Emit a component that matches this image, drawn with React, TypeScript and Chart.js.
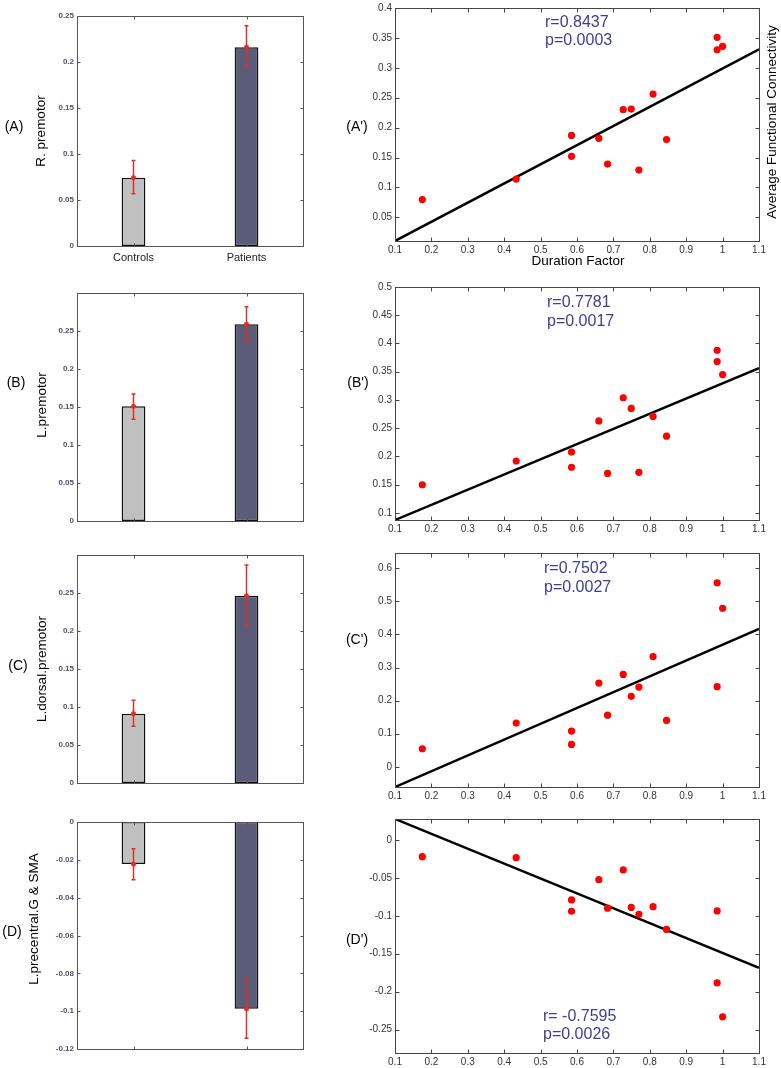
import React, { useEffect, useRef } from 'react';
import { Chart, registerables } from 'chart.js';

Chart.register(...registerables);

const FONT = "'Liberation Sans', Arial, sans-serif";
Chart.defaults.font.family = FONT;

// ---------- Bar panels (group means with error bars) ----------
const groups = ['Controls', 'Patients'];
const meanA = [0.0742, 0.216];
const loA = [0.0568, 0.194];
const hiA = [0.093, 0.2395];
const meanB = [0.151, 0.259];
const loB = [0.134, 0.2355];
const hiB = [0.167, 0.282];
const meanC = [0.0912, 0.2465];
const loC = [0.0746, 0.207];
const hiC = [0.109, 0.287];
const meanD = [-0.0222, -0.0987];
const loD = [-0.0305, -0.1143];
const hiD = [-0.0141, -0.0828];

const barTicksPos = [0, 0.05, 0.1, 0.15, 0.2, 0.25];
const barTicksNeg = [-0.12, -0.1, -0.08, -0.06, -0.04, -0.02, 0];

// ---------- Scatter panels (connectivity vs duration factor) ----------
const duration = [0.175, 0.433, 0.585, 0.585, 0.66, 0.684, 0.727, 0.749, 0.77, 0.809, 0.846, 0.985, 0.985, 1.0];
const connA = [0.0796, 0.114, 0.187, 0.152, 0.182, 0.139, 0.23, 0.231, 0.129, 0.256, 0.18, 0.351, 0.33, 0.336];
const connB = [0.15, 0.192, 0.208, 0.181, 0.263, 0.17, 0.304, 0.285, 0.172, 0.271, 0.236, 0.388, 0.368, 0.345];
const connC = [0.0545, 0.132, 0.108, 0.0676, 0.253, 0.156, 0.279, 0.213, 0.241, 0.333, 0.14, 0.556, 0.242, 0.479];
const connD = [-0.022, -0.0233, -0.079, -0.094, -0.0523, -0.09, -0.0395, -0.089, -0.098, -0.088, -0.118, -0.0936, -0.1885, -0.2333];

const fitX = [0.1, 1.1];
const fitA = [0.0104, 0.331];
const fitB = [0.0876, 0.3565];
const fitC = [-0.061, 0.417];
const fitD = [0.0277, -0.1687];

const xTicks = [0.1, 0.2, 0.3, 0.4, 0.5, 0.6, 0.7, 0.8, 0.9, 1, 1.1];
const yTicksA = [0.05, 0.1, 0.15, 0.2, 0.25, 0.3, 0.35, 0.4];
const yTicksB = [0.1, 0.15, 0.2, 0.25, 0.3, 0.35, 0.4, 0.45, 0.5];
const yTicksC = [0, 0.1, 0.2, 0.3, 0.4, 0.5, 0.6];
const yTicksD = [-0.25, -0.2, -0.15, -0.1, -0.05, 0];

const statsA = ['r=0.8437', 'p=0.0003'];
const statsB = ['r=0.7781', 'p=0.0017'];
const statsC = ['r=0.7502', 'p=0.0027'];
const statsD = ['r= -0.7595', 'p=0.0026'];

const fmt = (v: number) => String(Math.round(v * 10000) / 10000);

type Txt = { text: string; x: number; y: number; font: string; color?: string; align?: CanvasTextAlign; rot?: number };

function framePlugin(color: string, tickLen: number) {
  return {
    id: 'frame',
    afterDatasetsDraw(chart: any) {
      const { ctx, chartArea: a, scales } = chart;
      const xs = scales.x;
      const ys = scales.y;
      ctx.save();
      ctx.strokeStyle = color;
      ctx.lineWidth = 1;
      const l = Math.round(a.left) + 0.5;
      const r = Math.round(a.right) + 0.5;
      const t = Math.round(a.top) + 0.5;
      const b = Math.round(a.bottom) + 0.5;
      ctx.strokeRect(l, t, r - l, b - t);
      ctx.beginPath();
      xs.ticks.forEach((_: any, i: number) => {
        const px = Math.round(xs.getPixelForTick(i)) + 0.5;
        ctx.moveTo(px, b);
        ctx.lineTo(px, b - tickLen);
        ctx.moveTo(px, t);
        ctx.lineTo(px, t + tickLen);
      });
      ys.ticks.forEach((_: any, i: number) => {
        const py = Math.round(ys.getPixelForTick(i)) + 0.5;
        ctx.moveTo(l, py);
        ctx.lineTo(l + tickLen, py);
        ctx.moveTo(r, py);
        ctx.lineTo(r - tickLen, py);
      });
      ctx.stroke();
      ctx.restore();
    },
  };
}

function errorPlugin(mean: number[], lo: number[], hi: number[]) {
  return {
    id: 'errbars',
    afterDatasetsDraw(chart: any) {
      const { ctx, scales } = chart;
      const xs = scales.x;
      const ys = scales.y;
      ctx.save();
      ctx.strokeStyle = '#e0302a';
      ctx.fillStyle = '#e0302a';
      ctx.lineWidth = 1.5;
      mean.forEach((m, i) => {
        const px = xs.getPixelForValue(i);
        const yl = ys.getPixelForValue(lo[i]);
        const yh = ys.getPixelForValue(hi[i]);
        const ym = ys.getPixelForValue(m);
        ctx.beginPath();
        ctx.moveTo(px, yl);
        ctx.lineTo(px, yh);
        ctx.moveTo(px - 2, yl);
        ctx.lineTo(px + 2, yl);
        ctx.moveTo(px - 2, yh);
        ctx.lineTo(px + 2, yh);
        ctx.stroke();
        ctx.beginPath();
        ctx.arc(px, ym, 2.5, 0, Math.PI * 2);
        ctx.fill();
      });
      ctx.restore();
    },
  };
}

function textPlugin(texts: Txt[], offX: number, offY: number) {
  return {
    id: 'texts',
    afterDraw(chart: any) {
      const ctx = chart.ctx;
      texts.forEach((t) => {
        ctx.save();
        ctx.font = t.font;
        ctx.fillStyle = t.color || '#000';
        ctx.textAlign = t.align || 'center';
        ctx.textBaseline = 'middle';
        ctx.translate(t.x - offX, t.y - offY);
        if (t.rot) ctx.rotate(t.rot);
        ctx.fillText(t.text, 0, 0);
        ctx.restore();
      });
    },
  };
}

type Geo = { left: number; top: number; width: number; height: number };

function ChartBox({ geo, makeConfig }: { geo: Geo; makeConfig: () => any }) {
  const ref = useRef<HTMLCanvasElement | null>(null);
  useEffect(() => {
    const chart = new Chart(ref.current as HTMLCanvasElement, makeConfig());
    return () => chart.destroy();
  }, []);
  return (
    <div style={{ position: 'absolute', left: geo.left, top: geo.top, width: geo.width, height: geo.height }}>
      <canvas ref={ref} width={geo.width} height={geo.height} style={{ width: geo.width, height: geo.height, display: 'block' }} />
    </div>
  );
}

const PAD_T = 15;
const PAD_B = 30;
const X_H = 20;
const Y_W = 40;

function barSetup(opts: {
  areaTop: number; areaBot: number; mean: number[]; lo: number[]; hi: number[];
  min: number; max: number; ticks: number[]; showX: boolean; texts: Txt[];
}) {
  const left = 0;
  const width = 320;
  const areaL = 77;
  const areaR = 303;
  const top = opts.areaTop - PAD_T;
  const height = opts.areaBot - opts.areaTop + PAD_T + PAD_B;
  const geo = { left, top, width, height };
  const makeConfig = () => ({
    type: 'bar',
    data: {
      labels: groups,
      datasets: [
        {
          data: opts.mean,
          backgroundColor: ['#c0c0c0', '#5b5b7a'],
          borderColor: '#111111',
          borderWidth: 1.5,
          borderSkipped: false,
          inflateAmount: 0,
          barPercentage: 0.21,
          categoryPercentage: 1,
        },
      ],
    },
    options: {
      animation: false,
      responsive: false,
      devicePixelRatio: 1,
      layout: { padding: { left: areaL - left - Y_W, right: left + width - areaR, top: PAD_T, bottom: PAD_B - X_H } },
      plugins: { legend: { display: false }, tooltip: { enabled: false } },
      scales: {
        x: {
          grid: { display: false, drawTicks: false },
          border: { display: false },
          ticks: { display: opts.showX, font: { size: 11, family: FONT }, color: '#222', padding: 5 },
          afterFit: (s: any) => { s.height = X_H; },
        },
        y: {
          min: opts.min,
          max: opts.max,
          grid: { display: false, drawTicks: false },
          border: { display: false },
          afterBuildTicks: (s: any) => { s.ticks = opts.ticks.map((v) => ({ value: v })); },
          ticks: { callback: (v: any) => fmt(Number(v)), font: { size: 8, family: FONT, weight: 'bold' }, color: '#50506a', padding: 3 },
          afterFit: (s: any) => { s.width = Y_W; },
        },
      },
    },
    plugins: [framePlugin('#555', 3), errorPlugin(opts.mean, opts.lo, opts.hi), textPlugin(opts.texts, left, top)],
  });
  return { geo, makeConfig };
}

function scatterSetup(opts: {
  areaTop: number; areaBot: number; ys: number[]; fit: number[];
  min: number; max: number; ticks: number[]; texts: Txt[];
}) {
  const left = 335;
  const width = 446;
  const areaL = 395;
  const areaR = 759;
  const top = opts.areaTop - PAD_T;
  const height = opts.areaBot - opts.areaTop + PAD_T + PAD_B;
  const geo = { left, top, width, height };
  const makeConfig = () => ({
    type: 'scatter',
    data: {
      datasets: [
        {
          data: duration.map((x, i) => ({ x, y: opts.ys[i] })),
          backgroundColor: '#ff0000',
          borderWidth: 0,
          pointRadius: 3.6,
          order: 0,
        },
        {
          type: 'line',
          data: fitX.map((x, i) => ({ x, y: opts.fit[i] })),
          borderColor: '#000',
          borderWidth: 2.5,
          pointRadius: 0,
          fill: false,
          order: 1,
        },
      ],
    },
    options: {
      animation: false,
      responsive: false,
      devicePixelRatio: 1,
      layout: { padding: { left: areaL - left - Y_W, right: left + width - areaR, top: PAD_T, bottom: PAD_B - X_H } },
      plugins: { legend: { display: false }, tooltip: { enabled: false } },
      scales: {
        x: {
          type: 'linear',
          min: 0.1,
          max: 1.1,
          grid: { display: false, drawTicks: false },
          border: { display: false },
          afterBuildTicks: (s: any) => { s.ticks = xTicks.map((v) => ({ value: v })); },
          ticks: { callback: (v: any) => fmt(Number(v)), font: { size: 10, family: FONT }, color: '#333', padding: 3, maxRotation: 0, autoSkip: false },
          afterFit: (s: any) => { s.height = X_H; },
        },
        y: {
          type: 'linear',
          min: opts.min,
          max: opts.max,
          grid: { display: false, drawTicks: false },
          border: { display: false },
          afterBuildTicks: (s: any) => { s.ticks = opts.ticks.map((v) => ({ value: v })); },
          ticks: { callback: (v: any) => fmt(Number(v)), font: { size: 10, family: FONT }, color: '#333', padding: 3 },
          afterFit: (s: any) => { s.width = Y_W; },
        },
      },
    },
    plugins: [framePlugin('#444', 4), textPlugin(opts.texts, left, top)],
  });
  return { geo, makeConfig };
}

const LBL = `14px ${FONT}`;
const TITLE = `13.5px ${FONT}`;
const STAT = `16px ${FONT}`;
const BLUE = '#3d3d99';
const UP = -Math.PI / 2;

const panels = [
  barSetup({
    areaTop: 16, areaBot: 246, mean: meanA, lo: loA, hi: hiA, min: 0, max: 0.25, ticks: barTicksPos, showX: true,
    texts: [
      { text: '(A)', x: 14, y: 127, font: LBL },
      { text: 'R. premotor', x: 41, y: 131, font: TITLE, rot: UP },
    ],
  }),
  barSetup({
    areaTop: 293, areaBot: 521, mean: meanB, lo: loB, hi: hiB, min: 0, max: 0.3, ticks: barTicksPos, showX: false,
    texts: [
      { text: '(B)', x: 16, y: 383, font: LBL },
      { text: 'L.premotor', x: 42, y: 405, font: TITLE, rot: UP },
    ],
  }),
  barSetup({
    areaTop: 555, areaBot: 783, mean: meanC, lo: loC, hi: hiC, min: 0, max: 0.3, ticks: barTicksPos, showX: false,
    texts: [
      { text: '(C)', x: 18, y: 666, font: LBL },
      { text: 'L.dorsal.premotor', x: 42, y: 669, font: TITLE, rot: UP },
    ],
  }),
  barSetup({
    areaTop: 822, areaBot: 1049, mean: meanD, lo: loD, hi: hiD, min: -0.12, max: 0, ticks: barTicksNeg, showX: false,
    texts: [
      { text: '(D)', x: 12, y: 932, font: LBL },
      { text: 'L.precentral.G & SMA', x: 34, y: 919, font: TITLE, rot: UP },
    ],
  }),
  scatterSetup({
    areaTop: 8, areaBot: 241, ys: connA, fit: fitA, min: 0.0104, max: 0.4, ticks: yTicksA,
    texts: [
      { text: "(A')", x: 357, y: 127, font: LBL },
      { text: statsA[0], x: 545, y: 23, font: STAT, color: BLUE, align: 'left' },
      { text: statsA[1], x: 545, y: 41, font: STAT, color: BLUE, align: 'left' },
      { text: 'Duration Factor', x: 578, y: 261, font: TITLE },
      { text: 'Average Functional Connectivity', x: 772, y: 122, font: TITLE, rot: UP },
    ],
  }),
  scatterSetup({
    areaTop: 287, areaBot: 520, ys: connB, fit: fitB, min: 0.0876, max: 0.5, ticks: yTicksB,
    texts: [
      { text: "(B')", x: 358, y: 383, font: LBL },
      { text: statsB[0], x: 547, y: 303, font: STAT, color: BLUE, align: 'left' },
      { text: statsB[1], x: 547, y: 322, font: STAT, color: BLUE, align: 'left' },
    ],
  }),
  scatterSetup({
    areaTop: 553, areaBot: 787, ys: connC, fit: fitC, min: -0.061, max: 0.646, ticks: yTicksC,
    texts: [
      { text: "(C')", x: 357, y: 640, font: LBL },
      { text: statsC[0], x: 544, y: 569, font: STAT, color: BLUE, align: 'left' },
      { text: statsC[1], x: 544, y: 588, font: STAT, color: BLUE, align: 'left' },
    ],
  }),
  scatterSetup({
    areaTop: 819, areaBot: 1053, ys: connD, fit: fitD, min: -0.281, max: 0.0277, ticks: yTicksD,
    texts: [
      { text: "(D')", x: 357, y: 940, font: LBL },
      { text: statsD[0], x: 543, y: 1017, font: STAT, color: BLUE, align: 'left' },
      { text: statsD[1], x: 543, y: 1035, font: STAT, color: BLUE, align: 'left' },
    ],
  }),
];

export default function App() {
  return (
    <div style={{ position: 'absolute', left: 0, top: 0, width: 781, height: 1068, background: '#fff', overflow: 'hidden' }}>
      {panels.map((p, i) => (
        <ChartBox key={i} geo={p.geo} makeConfig={p.makeConfig} />
      ))}
    </div>
  );
}
